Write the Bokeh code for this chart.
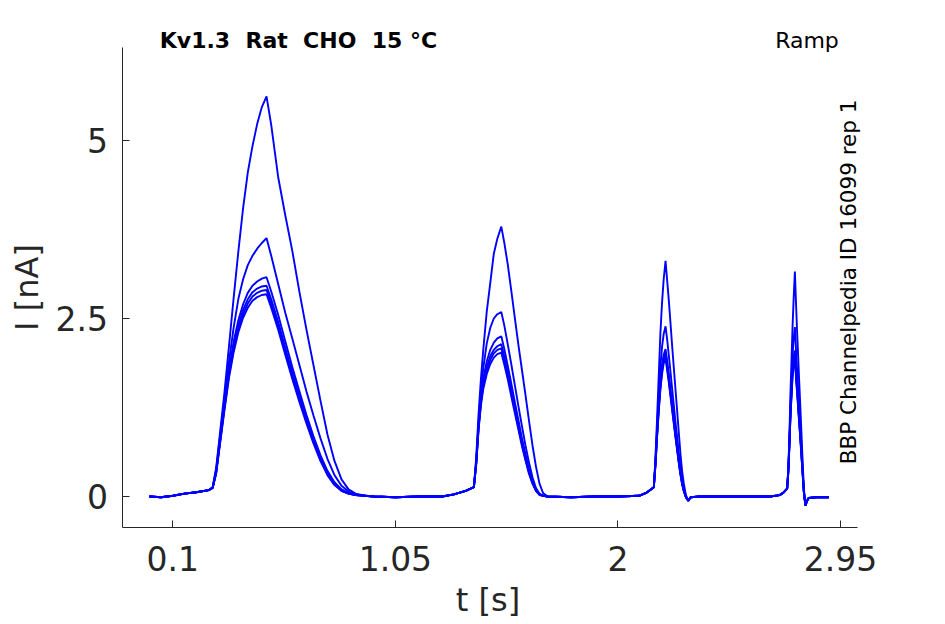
from bokeh.plotting import figure
from bokeh.models import Range1d, FixedTicker, Label
from bokeh.embed import file_html
from bokeh.resources import INLINE
import math

# ---- data ----
base0_t = [0.0, 0.05, 0.10, 0.15, 0.20]
base0_I = [0.0, -0.01, 0.01, 0.04, 0.06]

r1_t = [0.254, 0.27, 0.285, 0.30, 0.32, 0.34, 0.36, 0.38, 0.40, 0.42, 0.44, 0.46, 0.48, 0.50,
        0.52, 0.55, 0.58, 0.61, 0.64, 0.67, 0.70, 0.73, 0.76, 0.79, 0.82, 0.85, 0.88, 0.92]
r1_A = [0.09, 0.13, 0.40, 0.85, 1.45, 2.12, 2.80, 3.45, 4.05, 4.55, 4.92, 5.23, 5.47, 5.62,
        5.22, 4.48, 3.95, 3.45, 2.88, 2.35, 1.85, 1.35, 0.87, 0.50, 0.24, 0.10, 0.04, 0.01]
r1_B = [0.09, 0.13, 0.38, 0.80, 1.35, 1.90, 2.38, 2.78, 3.05, 3.25, 3.38, 3.48, 3.56, 3.63,
        3.38, 2.98, 2.58, 2.22, 1.85, 1.48, 1.14, 0.82, 0.53, 0.30, 0.15, 0.07, 0.03, 0.01]
r1_C = [0.09, 0.12, 0.35, 0.75, 1.28, 1.78, 2.18, 2.48, 2.70, 2.86, 2.96, 3.02, 3.06, 3.08,
        2.88, 2.55, 2.18, 1.82, 1.48, 1.15, 0.85, 0.58, 0.36, 0.20, 0.10, 0.05, 0.02, 0.01]
r1_D = [0.09, 0.12, 0.34, 0.73, 1.25, 1.74, 2.12, 2.41, 2.62, 2.77, 2.87, 2.92, 2.95, 2.96,
        2.77, 2.45, 2.09, 1.74, 1.41, 1.09, 0.80, 0.54, 0.33, 0.18, 0.09, 0.04, 0.02, 0.01]
r1_E = [0.09, 0.12, 0.33, 0.72, 1.23, 1.71, 2.08, 2.36, 2.56, 2.71, 2.81, 2.86, 2.89, 2.90,
        2.71, 2.39, 2.04, 1.69, 1.37, 1.06, 0.77, 0.52, 0.31, 0.17, 0.08, 0.04, 0.02, 0.01]
r1_F = [0.09, 0.12, 0.32, 0.70, 1.20, 1.67, 2.03, 2.31, 2.51, 2.65, 2.75, 2.80, 2.83, 2.84,
        2.65, 2.34, 1.99, 1.65, 1.33, 1.03, 0.75, 0.50, 0.30, 0.16, 0.08, 0.04, 0.02, 0.01]

gap1_t = [0.96, 1.05, 1.15, 1.25, 1.30, 1.35]
gap1_I = [0.0, -0.01, 0.0, 0.0, 0.03, 0.08]

r2_t = [1.385, 1.395, 1.405, 1.415, 1.425, 1.44, 1.455, 1.47, 1.485, 1.502, 1.515, 1.53,
        1.545, 1.56, 1.575, 1.59, 1.605, 1.62, 1.635, 1.65, 1.665, 1.68, 1.70]
r2_A = [0.13, 0.55, 1.16, 1.65, 2.06, 2.60, 3.00, 3.41, 3.62, 3.79, 3.56, 3.25,
        2.88, 2.50, 2.13, 1.78, 1.43, 1.07, 0.72, 0.42, 0.18, 0.05, 0.0]
r2_B = [0.13, 0.50, 1.05, 1.48, 1.80, 2.15, 2.37, 2.50, 2.56, 2.59, 2.40, 2.13,
        1.85, 1.56, 1.27, 0.99, 0.72, 0.48, 0.27, 0.12, 0.04, 0.01, 0.0]
r2_C = [0.13, 0.48, 1.00, 1.38, 1.65, 1.90, 2.06, 2.16, 2.22, 2.25, 2.07, 1.83,
        1.58, 1.32, 1.07, 0.82, 0.60, 0.39, 0.22, 0.10, 0.03, 0.01, 0.0]
r2_D = [0.13, 0.47, 0.98, 1.34, 1.59, 1.82, 1.97, 2.06, 2.11, 2.14, 1.97, 1.74,
        1.50, 1.25, 1.01, 0.77, 0.56, 0.36, 0.20, 0.09, 0.03, 0.01, 0.0]
r2_E = [0.13, 0.46, 0.96, 1.31, 1.55, 1.77, 1.92, 2.01, 2.06, 2.08, 1.91, 1.69,
        1.45, 1.21, 0.97, 0.74, 0.53, 0.34, 0.19, 0.08, 0.03, 0.01, 0.0]
r2_F = [0.13, 0.45, 0.94, 1.28, 1.51, 1.72, 1.86, 1.95, 2.00, 2.02, 1.85, 1.64,
        1.40, 1.17, 0.94, 0.71, 0.51, 0.32, 0.18, 0.08, 0.02, 0.01, 0.0]

gap2_t = [1.80, 1.90, 2.00, 2.09, 2.12]
gap2_I = [-0.01, 0.0, 0.0, 0.01, 0.05]

r3_t = [2.153, 2.160, 2.167, 2.174, 2.181, 2.188, 2.195, 2.203, 2.210, 2.217, 2.224, 2.231,
        2.238, 2.245, 2.253, 2.260, 2.267, 2.274, 2.281, 2.290, 2.300, 2.310, 2.35]
r3_A = [0.13, 0.55, 1.11, 1.70, 2.29, 2.72, 3.05, 3.31, 3.03, 2.75, 2.44, 2.12,
        1.82, 1.52, 1.18, 0.88, 0.58, 0.35, 0.18, 0.02, -0.06, -0.01, 0.0]
r3_B = [0.13, 0.50, 0.98, 1.42, 1.82, 2.10, 2.28, 2.39, 2.20, 1.98, 1.75, 1.52,
        1.29, 1.06, 0.82, 0.60, 0.40, 0.24, 0.12, 0.0, -0.06, -0.01, 0.0]
r3_C = [0.13, 0.47, 0.90, 1.28, 1.60, 1.84, 1.99, 2.07, 1.90, 1.71, 1.51, 1.31,
        1.11, 0.91, 0.69, 0.50, 0.33, 0.19, 0.09, -0.01, -0.06, -0.01, 0.0]
r3_D = [0.13, 0.46, 0.88, 1.25, 1.56, 1.80, 1.95, 2.02, 1.85, 1.67, 1.47, 1.27,
        1.08, 0.88, 0.67, 0.48, 0.32, 0.18, 0.08, -0.01, -0.06, -0.01, 0.0]
r3_E = [0.13, 0.45, 0.86, 1.22, 1.53, 1.76, 1.91, 1.98, 1.81, 1.63, 1.44, 1.24,
        1.05, 0.86, 0.65, 0.47, 0.31, 0.17, 0.08, -0.01, -0.06, -0.01, 0.0]
r3_F = [0.13, 0.44, 0.84, 1.20, 1.50, 1.72, 1.87, 1.94, 1.77, 1.60, 1.41, 1.22,
        1.03, 0.84, 0.64, 0.46, 0.30, 0.17, 0.07, -0.01, -0.06, -0.01, 0.0]

gap3_t = [2.45, 2.55, 2.65, 2.69, 2.705]
gap3_I = [0.0, 0.0, 0.0, 0.02, 0.05]

r4_t = [2.722, 2.727, 2.732, 2.736, 2.741, 2.745, 2.750, 2.755, 2.760, 2.764, 2.768,
        2.773, 2.778, 2.782, 2.787, 2.793, 2.800, 2.807, 2.814, 2.85, 2.90]
r4_A = [0.11, 0.40, 0.90, 1.44, 1.95, 2.38, 2.80, 3.16, 2.70, 2.35, 2.05,
        1.65, 1.28, 0.97, 0.58, 0.13, -0.13, -0.06, -0.02, -0.01, -0.01]
r4_B = [0.11, 0.38, 0.82, 1.26, 1.66, 1.98, 2.22, 2.38, 2.05, 1.80, 1.58,
        1.28, 1.00, 0.76, 0.45, 0.10, -0.13, -0.06, -0.02, -0.01, -0.01]
r4_C = [0.11, 0.36, 0.78, 1.18, 1.53, 1.80, 1.97, 2.05, 1.78, 1.57, 1.38,
        1.12, 0.88, 0.67, 0.40, 0.08, -0.13, -0.06, -0.02, -0.01, -0.01]
r4_D = [0.11, 0.35, 0.76, 1.15, 1.49, 1.75, 1.92, 2.00, 1.74, 1.53, 1.35,
        1.09, 0.86, 0.65, 0.39, 0.08, -0.13, -0.06, -0.02, -0.01, -0.01]
r4_E = [0.11, 0.35, 0.75, 1.13, 1.46, 1.72, 1.88, 1.96, 1.70, 1.50, 1.32,
        1.07, 0.84, 0.64, 0.38, 0.07, -0.13, -0.06, -0.02, -0.01, -0.01]
r4_F = [0.11, 0.34, 0.74, 1.11, 1.43, 1.68, 1.84, 1.92, 1.67, 1.47, 1.29,
        1.05, 0.82, 0.62, 0.37, 0.07, -0.13, -0.06, -0.02, -0.01, -0.01]

x_ticks = [0.1, 1.05, 2.0, 2.95]
x_tick_labels = ["0.1", "1.05", "2", "2.95"]
y_ticks = [0.0, 2.5, 5.0]
y_tick_labels = ["0", "2.5", "5"]
x_axis_span = (-0.113, 3.021)
y_axis_span = (-0.431, 6.31)

NB2 = " \u00a0"  # a double space that survives SVG whitespace collapsing
title_text = "Kv1.3" + NB2 + "Rat" + NB2 + "CHO" + NB2 + "15 \u00b0C"
protocol_text = "Ramp"
source_text = "BBP Channelpedia ID 16099 rep 1"
x_label = "t [s]"
y_label = "I [nA]"

# ---- figure: frame fills the canvas, axes sit at fixed locations ----
TXT = "#262626"
FONT = "DejaVu Sans"

p = figure(width=937, height=622,
           min_border_left=0, min_border_right=0, min_border_top=0, min_border_bottom=0,
           x_range=Range1d(-0.6354, 3.3637), y_range=Range1d(-1.7697, 6.966),
           output_backend="svg", toolbar_location=None, tools="")
p.outline_line_color = None
p.xgrid.visible = False
p.ygrid.visible = False
p.background_fill_color = "white"
p.border_fill_color = "white"

time_all = base0_t + r1_t + gap1_t + r2_t + gap2_t + r3_t + gap3_t + r4_t
sweeps = [
    (r1_A, r2_A, r3_A, r4_A),
    (r1_B, r2_B, r3_B, r4_B),
    (r1_C, r2_C, r3_C, r4_C),
    (r1_D, r2_D, r3_D, r4_D),
    (r1_E, r2_E, r3_E, r4_E),
    (r1_F, r2_F, r3_F, r4_F),
]
for a, b, c, d in sweeps:
    cur = base0_I + a + gap1_I + b + gap2_I + c + gap3_I + d
    p.line(time_all, cur, line_color="#0000ff", line_width=1.9)

for ax in (p.xaxis[0], p.yaxis[0]):
    ax.axis_line_color = TXT
    ax.axis_line_width = 1
    ax.major_tick_line_color = TXT
    ax.major_tick_in = 7
    ax.major_tick_out = 0
    ax.minor_tick_line_color = None
    ax.major_label_text_font = FONT
    ax.major_label_text_font_size = "33px"
    ax.major_label_text_color = TXT

p.xaxis.fixed_location = y_axis_span[0]
p.xaxis.bounds = x_axis_span
p.xaxis.ticker = FixedTicker(ticks=x_ticks)
p.xaxis.major_label_overrides = {t: s for t, s in zip(x_ticks, x_tick_labels)}
p.xaxis.major_label_standoff = 19

p.yaxis.fixed_location = x_axis_span[0]
p.yaxis.bounds = y_axis_span
p.yaxis.ticker = FixedTicker(ticks=y_ticks)
p.yaxis.major_label_overrides = {t: s for t, s in zip(y_ticks, y_tick_labels)}
p.yaxis.major_label_standoff = 15
p.yaxis.axis_label = y_label
p.yaxis.axis_label_text_font = FONT
p.yaxis.axis_label_text_font_size = "32px"
p.yaxis.axis_label_text_font_style = "normal"
p.yaxis.axis_label_text_color = TXT
p.yaxis.axis_label_standoff = 6

p.add_layout(Label(x=1.4453, y=-1.45, text=x_label, text_font=FONT, text_font_size="32px",
                   text_color=TXT, text_align="center", text_baseline="middle"))
p.add_layout(Label(x=0.0445, y=6.411, text=title_text, text_font=FONT, text_font_size="22px",
                   text_font_style="bold", text_color="black", text_align="left",
                   text_baseline="middle"))
p.add_layout(Label(x=2.9425, y=6.411, text=protocol_text, text_font=FONT, text_font_size="22px",
                   text_color="black", text_align="right", text_baseline="middle"))
p.add_layout(Label(x=2.9826, y=3.013, text=source_text, text_font=FONT, text_font_size="21.5px",
                   text_color="black", text_align="center", text_baseline="middle",
                   angle=math.pi / 2))

open("out.html", "w").write(file_html(p, INLINE))
